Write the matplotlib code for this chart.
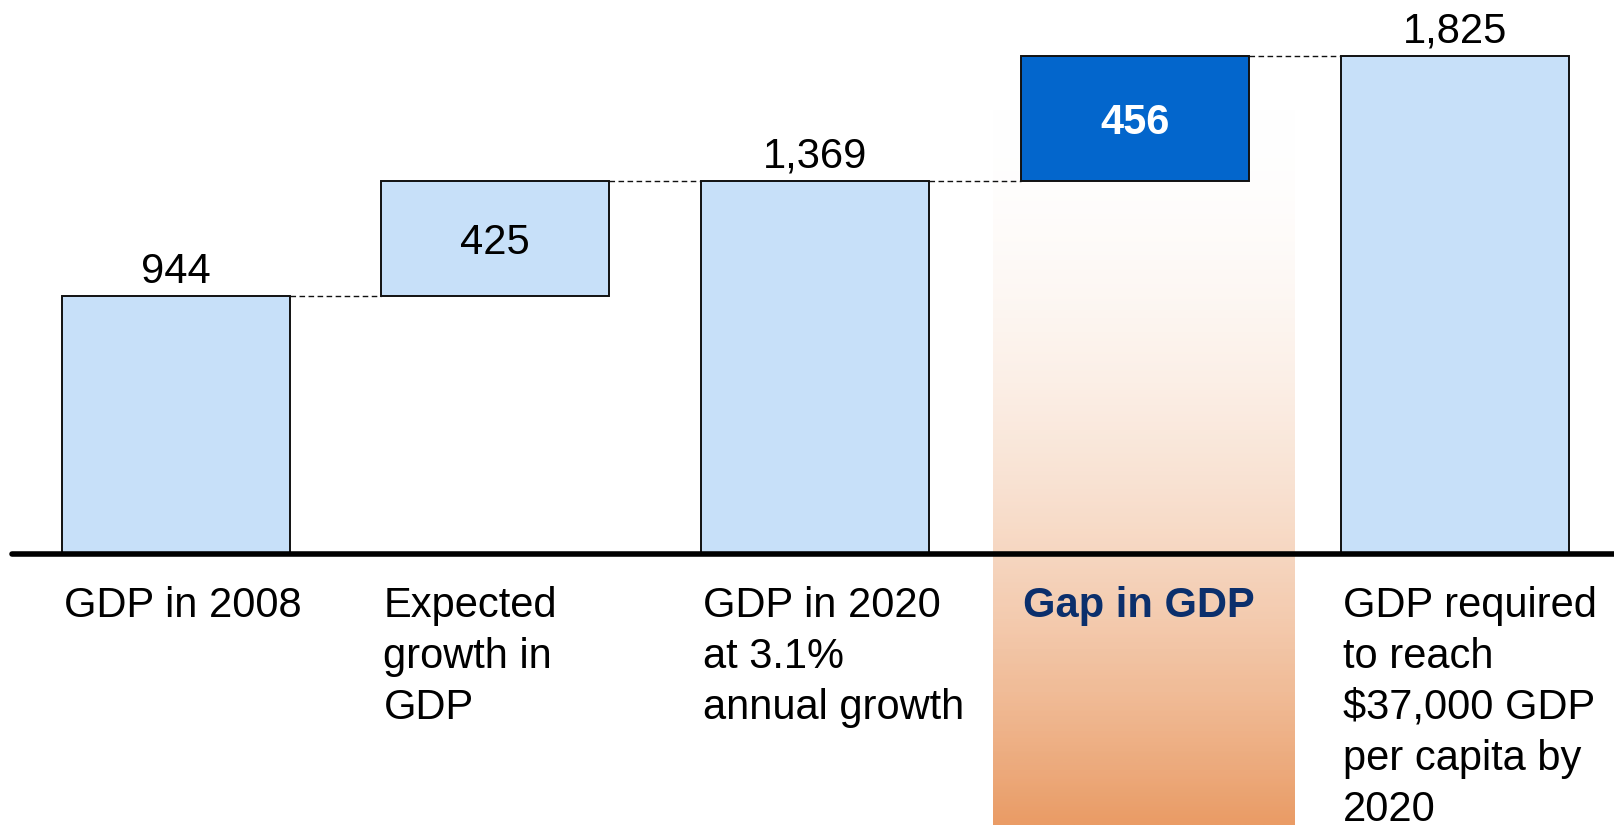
import numpy as np
import matplotlib.pyplot as plt
from matplotlib.colors import LinearSegmentedColormap

plt.rcParams['font.family'] = ['Liberation Sans', 'DejaVu Sans']

# waterfall data
categories = ["GDP in 2008",
              "Expected\ngrowth in\nGDP",
              "GDP in 2020\nat 3.1%\nannual growth",
              "Gap in GDP",
              "GDP required\nto reach\n$37,000 GDP\nper capita by\n2020"]
values = [944, 425, 1369, 456, 1825]
is_total = [True, False, True, False, True]
value_labels = ["944", "425", "1,369", "456", "1,825"]
highlight = 3

# bottoms: totals start at 0, deltas start on top of previous total
bottoms = []
running = 0
for v, tot in zip(values, is_total):
    if tot:
        bottoms.append(0)
        running = v
    else:
        bottoms.append(running)
        running = running + v
tops = [b + v for b, v in zip(bottoms, values)]

fig = plt.figure(figsize=(16.15, 8.25), dpi=100)
ax = fig.add_axes([0, 0, 1, 1])
ax.set_xlim(-0.549, 4.501)
ax.set_ylim(-993.7, 2031)
ax.axis('off')

x = np.arange(len(values))
w = 0.713

# orange gradient highlight behind the gap bar
grad = np.linspace(0, 1, 256) ** 0.95
grad = grad[:, None]
cmap = LinearSegmentedColormap.from_list('peach', [(1, 1, 1, 0), '#EA9C66'])
ax.imshow(grad, cmap=cmap, aspect='auto', origin='upper',
          extent=[highlight - 0.445, highlight + 0.497, -993.7, 1640], zorder=0)

colors = ['#C7E0F9'] * len(values)
colors[highlight] = '#0366CC'
ax.bar(x, values, width=w, bottom=bottoms, color=colors,
       edgecolor='#111111', linewidth=1.4, zorder=3)

# dashed connectors between bars
for i in range(len(values) - 1):
    ax.plot([x[i] + w / 2, x[i + 1] - w / 2], [tops[i], tops[i]],
            color='#111111', lw=1.0, ls=(0, (4, 2.5)), zorder=2)

# value labels
for i in range(len(values)):
    if is_total[i]:
        ax.annotate(value_labels[i], (x[i], tops[i]), xytext=(0, 9.5),
                    textcoords='offset points', ha='center', va='baseline',
                    fontsize=30, color='black', zorder=5)
    else:
        bold = i == highlight
        ax.text(x[i], bottoms[i] + values[i] / 2, value_labels[i],
                ha='center', va='center_baseline', fontsize=30,
                fontweight='bold' if bold else 'normal',
                color='white' if bold else 'black', zorder=5)

# baseline
ax.plot([-0.51, 4.501], [0, 0], color='black', lw=4,
        solid_capstyle='round', zorder=4, clip_on=False)

# category labels under the baseline
for i, lab in enumerate(categories):
    bold = i == highlight
    ax.annotate(lab, (x[i] - w / 2, 0), xytext=(1.5, -23),
                textcoords='offset points', ha='left', va='top',
                fontsize=30, linespacing=1.355,
                fontweight='bold' if bold else 'normal',
                color='#0B2F6C' if bold else 'black', zorder=5)

fig.savefig('out.png', dpi=100)
